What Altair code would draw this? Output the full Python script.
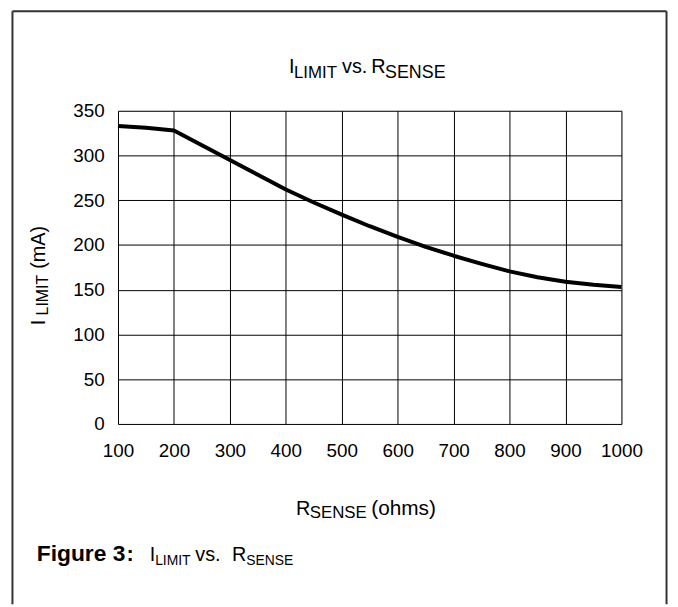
import altair as alt
import pandas as pd

# ---- data ----
r_sense = [100, 150, 200, 250, 300, 350, 400, 450, 500, 550, 600, 650, 700, 750, 800, 850, 900, 950, 1000]
i_limit = [333, 331, 328, 311.5, 295, 278.5, 262, 247.5, 234, 221, 209, 198, 188, 179, 170.5, 164, 159, 155.5, 153]
x_ticks = [100, 200, 300, 400, 500, 600, 700, 800, 900, 1000]
y_ticks = [0, 50, 100, 150, 200, 250, 300, 350]

FONT = "Liberation Sans"
W, H = 508, 316

df = pd.DataFrame({"r": r_sense, "i": i_limit})

axis_common = dict(grid=True, gridColor="black", gridWidth=1, gridOpacity=1,
                   domain=False, ticks=False, tickSize=0, labelFont=FONT,
                   labelFontSize=19, labelColor="black", title=None, format="d")

line = alt.Chart(df).mark_line(color="black", strokeWidth=4, interpolate="linear",
                               strokeJoin="round", strokeCap="butt").encode(
    x=alt.X("r:Q", scale=alt.Scale(domain=[100, 1000], nice=False, zero=False),
            axis=alt.Axis(values=x_ticks, labelPadding=18, labelFlush=False, **axis_common)),
    y=alt.Y("i:Q", scale=alt.Scale(domain=[0, 350], nice=False),
            axis=alt.Axis(values=y_ticks, labelPadding=14, **axis_common)),
)


def txt(s, x, y, size, bold=False, angle=0):
    kw = dict(text=s, align="left", baseline="alphabetic", font=FONT, fontSize=size,
              color="black", fontWeight="bold" if bold else "normal")
    if angle:
        kw["angle"] = angle
    return alt.Chart(pd.DataFrame({"a": [0]})).mark_text(**kw).encode(
        x=alt.value(x), y=alt.value(y))


def rule(x, y, x2=None, y2=None):
    enc = dict(x=alt.value(x), y=alt.value(y))
    if x2 is not None:
        enc["x2"] = alt.value(x2)
    if y2 is not None:
        enc["y2"] = alt.value(y2)
    return alt.Chart(pd.DataFrame({"a": [0]})).mark_rule(color="#333333", strokeWidth=2).encode(**enc)


# plot origin is at page (119, 109)
layers = [line]
# title
layers += [
    txt("I", 172.5, -38.3, 20),
    txt("LIMIT", 177.5, -33.5, 17),
    txt("vs.", 226, -38.3, 20),
    txt("R", 255.5, -38.3, 20),
    txt("SENSE", 269.5, -33.5, 18),
]
# x axis title
layers += [
    txt("R", 179.5, 407.7, 20),
    txt("SENSE", 193.5, 411, 17),
    txt("(ohms)", 255.5, 407.7, 21),
]
# y axis title (rotated)
layers += [
    txt("I", -74, 216.5, 20, angle=270),
    txt("LIMIT", -71, 206.5, 16, angle=270),
    txt("(mA)", -74, 159.5, 20, angle=270),
]
# caption
layers += [
    txt("Figure 3", -82, 454, 23, bold=True),
    txt(":", 8.5, 454, 22, bold=True),
    txt("I", 32, 454, 20),
    txt("LIMIT", 37.5, 458, 14),
    txt("vs.", 78, 454, 20),
    txt("R", 115, 454, 20),
    txt("SENSE", 129.5, 458, 14),
]
# outer frame (open at the bottom)
layers += [
    rule(-106.5, -100.5, x2=553.5),
    rule(-106.5, -100.5, y2=498),
    rule(553.5, -100.5, y2=498),
]

chart = alt.layer(*layers).properties(
    width=W, height=H,
    autosize=alt.AutoSizeParams(type="none"),
    padding={"left": 111, "top": 101, "right": 49, "bottom": 182},
).configure_view(stroke="black", strokeWidth=2).configure(background="white")

chart.save("out.html", embed_options={"renderer": "svg", "actions": False})
